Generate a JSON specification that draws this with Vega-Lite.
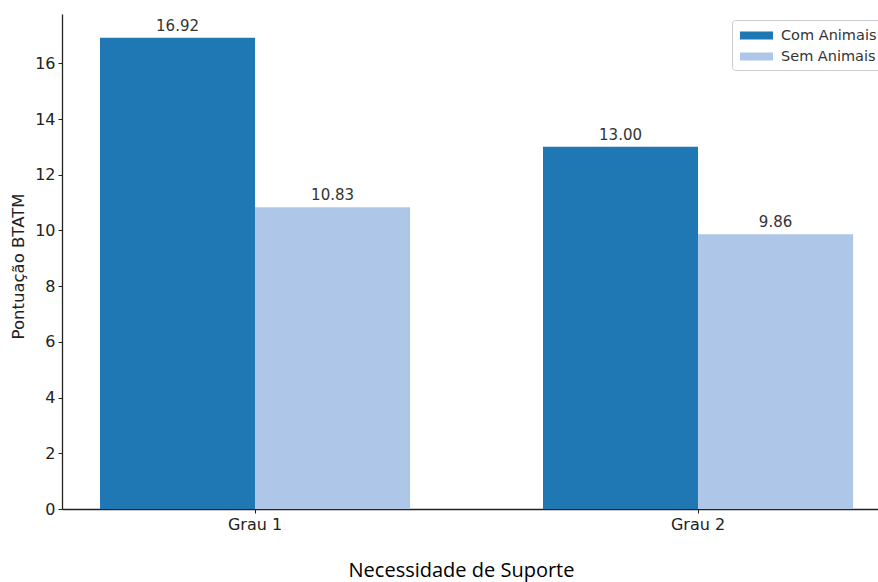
{
  "$schema": "https://vega.github.io/schema/vega-lite/v6.json",
  "width": 816,
  "height": 495,
  "autosize": {"type": "none"},
  "padding": {"left": 62, "top": 14, "right": 0, "bottom": 73},
  "background": "white",
  "config": {
    "view": {"stroke": null},
    "font": "DejaVu Sans"
  },
  "data": {
    "values": [
      {"grau": "Grau 1", "grupo": "Com Animais", "valor": 16.92},
      {"grau": "Grau 1", "grupo": "Sem Animais", "valor": 10.83},
      {"grau": "Grau 2", "grupo": "Com Animais", "valor": 13.00},
      {"grau": "Grau 2", "grupo": "Sem Animais", "valor": 9.86}
    ]
  },
  "encoding": {
    "x": {
      "field": "grau",
      "type": "nominal",
      "scale": {"paddingInner": 0.3, "paddingOuter": 0.071, "align": 0.604},
      "axis": {
        "title": "Necessidade de Suporte",
        "titleFont": "Open Sans",
        "titleFontSize": 20,
        "titleFontWeight": "normal",
        "titleColor": "#000000",
        "titleX": 399,
        "titleY": 61,
        "titleBaseline": "middle",
        "titleAlign": "center",
        "labelAngle": 0,
        "labelFontSize": 16,
        "labelColor": "#222222",
        "labelPadding": 3,
        "tickSize": 4,
        "tickColor": "#222222",
        "domainColor": "#222222",
        "domainWidth": 1.3,
        "grid": false
      }
    },
    "xOffset": {
      "field": "grupo",
      "type": "nominal",
      "scale": {"paddingInner": 0, "paddingOuter": 0}
    },
    "y": {
      "field": "valor",
      "type": "quantitative",
      "scale": {"domain": [0, 17.77], "nice": false},
      "axis": {
        "title": "Pontuação BTATM",
        "values": [0, 2, 4, 6, 8, 10, 12, 14, 16],
        "titleFontSize": 16.5,
        "titleFontWeight": "normal",
        "titleColor": "#222222",
        "titleX": -44,
        "titleY": 252,
        "titleAngle": -90,
        "titleAlign": "center",
        "titleBaseline": "middle",
        "labelFontSize": 16,
        "labelColor": "#222222",
        "labelPadding": 3,
        "tickSize": 4,
        "tickColor": "#222222",
        "domainColor": "#222222",
        "domainWidth": 1.3,
        "grid": false
      }
    }
  },
  "layer": [
    {
      "mark": {"type": "bar"},
      "encoding": {
        "color": {
          "field": "grupo",
          "type": "nominal",
          "scale": {"domain": ["Com Animais", "Sem Animais"], "range": ["#1f77b4", "#aec7e8"]},
          "legend": {
            "title": null,
            "orient": "none",
            "legendX": 670,
            "legendY": 6,
            "padding": 7,
            "fillColor": "white",
            "strokeColor": "#cccccc",
            "cornerRadius": 3,
            "symbolType": "M-2,-0.5H2V0.5H-2Z",
            "symbolSize": 272,
            "symbolOffset": 9,
            "symbolStrokeWidth": 0,
            "symbolOpacity": 1,
            "labelOffset": 16,
            "labelFontSize": 14.5,
            "labelColor": "#333333",
            "rowPadding": 6
          }
        }
      }
    },
    {
      "mark": {"type": "text", "baseline": "bottom", "dy": -4, "fontSize": 15, "color": "#333333"},
      "encoding": {
        "text": {"field": "valor", "type": "quantitative", "format": ".2f"}
      }
    }
  ]
}
